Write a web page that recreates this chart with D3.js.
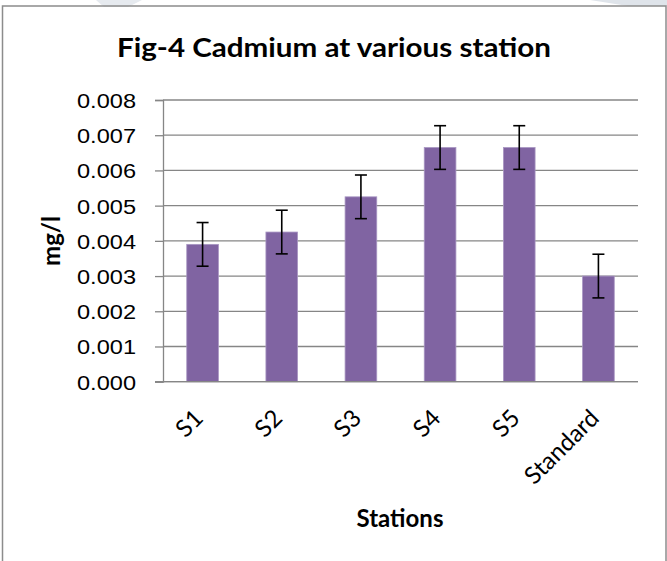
<!DOCTYPE html>
<html>
<head>
<meta charset="utf-8">
<script src="https://cdn.jsdelivr.net/npm/d3@7/dist/d3.min.js"></script>
<style>
  html, body { margin: 0; padding: 0; background: #ffffff; }
  svg { display: block; }
</style>
</head>
<body>
<svg id="chart" width="667" height="561"></svg>
<script>
// ---- data ----
const categories = ["S1", "S2", "S3", "S4", "S5", "Standard"];
const values = [0.0039, 0.00425, 0.00525, 0.00665, 0.00665, 0.0030];
const errors = [0.00062, 0.00062, 0.00062, 0.00062, 0.00062, 0.00062];
const yTicks = [0, 0.001, 0.002, 0.003, 0.004, 0.005, 0.006, 0.007, 0.008];
const titleText = "Fig-4 Cadmium at various station";
const xTitle = "Stations";
const yTitle = "mg/l";

// ---- layout ----
const W = 667, H = 561;
const plot = { left: 163, right: 638, top: 100, bottom: 381.7 };
const svg = d3.select("#chart");

// faint watermark shapes at the very top
svg.append("path").attr("d", "M96,0 L142,0 L128,7 L104,7 Z").attr("fill", "#e6eaef");
svg.append("path").attr("d", "M590,0 L667,0 L667,6 L628,6 Z").attr("fill", "#dfe4ea");

// chart area border
svg.append("rect")
  .attr("x", 2.5).attr("y", 6).attr("width", 663.5).attr("height", 570)
  .attr("fill", "none").attr("stroke", "#8c8c8c").attr("stroke-width", 1.5);

const x = d3.scaleBand().domain(categories)
  .range([plot.left, plot.right]).paddingInner(0.6).paddingOuter(0.3);
const y = d3.scaleLinear().domain([0, 0.008]).range([plot.bottom, plot.top]);

// gridlines
svg.append("g").selectAll("line").data(yTicks).join("line")
  .attr("x1", plot.left).attr("x2", plot.right)
  .attr("y1", d => y(d)).attr("y2", d => y(d))
  .attr("stroke", "#868686").attr("stroke-width", 1.3);

// y axis
const yAxis = svg.append("g")
  .attr("transform", `translate(${plot.left},0)`)
  .call(d3.axisLeft(y).tickValues(yTicks).tickFormat(d3.format(".3f")).tickSize(8).tickPadding(19));
yAxis.select(".domain").attr("stroke", "#868686").attr("stroke-width", 1.3);
yAxis.selectAll(".tick line").attr("stroke", "#868686").attr("stroke-width", 1.3);
yAxis.selectAll(".tick text")
  .attr("fill", "#000").attr("font-family", "'Liberation Sans', Arial, sans-serif")
  .attr("font-size", 20.5).attr("textLength", 59).attr("lengthAdjust", "spacingAndGlyphs")
  .attr("dy", "0.36em");

// bars
svg.append("g").selectAll("rect").data(categories).join("rect")
  .attr("x", d => x(d)).attr("width", x.bandwidth())
  .attr("y", (d, i) => y(values[i]))
  .attr("height", (d, i) => y(0) - y(values[i]))
  .attr("fill", "#8064A2").attr("stroke", "#a896c2").attr("stroke-width", 0.8);

// x axis line
svg.append("line")
  .attr("x1", plot.left - 8).attr("x2", plot.right)
  .attr("y1", y(0)).attr("y2", y(0))
  .attr("stroke", "#868686").attr("stroke-width", 1.3);

// error bars
const eb = svg.append("g").attr("stroke", "#000").attr("stroke-width", 1.6);
categories.forEach((c, i) => {
  const cx = x(c) + x.bandwidth() / 2;
  const hi = y(values[i] + errors[i]), lo = y(values[i] - errors[i]);
  eb.append("line").attr("x1", cx).attr("x2", cx).attr("y1", hi).attr("y2", lo);
  eb.append("line").attr("x1", cx - 6).attr("x2", cx + 6).attr("y1", hi).attr("y2", hi);
  eb.append("line").attr("x1", cx - 6).attr("x2", cx + 6).attr("y1", lo).attr("y2", lo);
});

// x labels, rotated
svg.append("g").selectAll("text").data(categories).join("text")
  .attr("transform", d => `translate(${x(d) + x.bandwidth() / 2 + 2},${plot.bottom + 38}) rotate(-45)`)
  .attr("text-anchor", "end")
  .attr("font-family", "Lato, 'Noto Sans', sans-serif")
  .attr("font-size", 24).attr("fill", "#000")
  .text(d => d);

// title
svg.append("text")
  .attr("x", 334).attr("y", 57).attr("text-anchor", "middle")
  .attr("font-family", "Lato, 'Noto Sans', sans-serif").attr("font-weight", "bold")
  .attr("font-size", 27).attr("textLength", 434).attr("lengthAdjust", "spacingAndGlyphs")
  .attr("fill", "#000").text(titleText);

// axis titles
svg.append("text")
  .attr("x", 400).attr("y", 527).attr("text-anchor", "middle")
  .attr("font-family", "Lato, 'Noto Sans', sans-serif").attr("font-weight", "bold")
  .attr("font-size", 24).attr("fill", "#000").text(xTitle);

svg.append("text")
  .attr("transform", "translate(60,241) rotate(-90)").attr("text-anchor", "middle")
  .attr("font-family", "Lato, 'Noto Sans', sans-serif").attr("font-weight", "bold")
  .attr("font-size", 24).attr("fill", "#000").text(yTitle);
</script>
</body>
</html>
